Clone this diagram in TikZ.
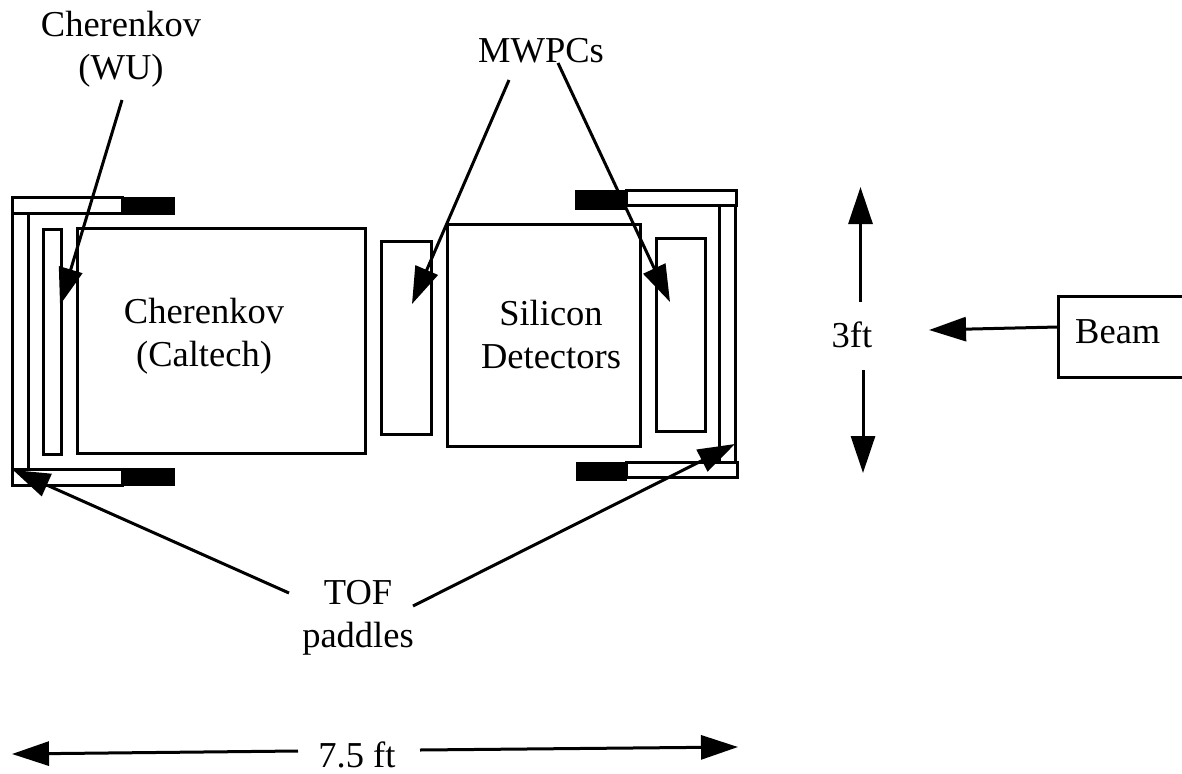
\documentclass[tikz,border=0pt]{standalone}
\usepackage{fontspec}
\setmainfont{Liberation Serif}
\usetikzlibrary{arrows.meta}
\tikzset{
  box/.style={draw=black,line width=3pt,fill=white,inner sep=0pt,outer sep=0pt,anchor=north west},
  blackbox/.style={draw=black,fill=black,line width=1pt,inner sep=0pt,outer sep=0pt,anchor=north west},
  lbl/.style={font=\fontsize{36.5}{43}\selectfont,align=center,inner sep=0pt},
  single/.style={font=\fontsize{36.5}{43}\selectfont,inner sep=0pt,anchor=base},
  conn/.style={line width=3pt,-{Triangle[length=37pt,width=24pt]}}
}
\begin{document}
\begin{tikzpicture}[x=1pt,y=-1pt]
\useasboundingbox (0,0) rectangle (1182,773);
% left TOF frame
\draw[line width=3pt] (12,205) rectangle (28,478);
\node[box,minimum width=110pt,minimum height=16pt] (lt) at (12,197) {};
\node[blackbox,minimum width=52pt,minimum height=17pt] (ltb) at (122,197) {};
\node[box,minimum width=110pt,minimum height=16pt] (lb) at (12,469) {};
\node[blackbox,minimum width=52pt,minimum height=17pt] (lbb) at (122,468) {};
% right TOF frame
\draw[line width=3pt] (719,198) rectangle (735,470);
\node[box,minimum width=110pt,minimum height=15pt] (rt) at (626,190) {};
\node[blackbox,minimum width=51pt,minimum height=19pt] (rtb) at (575,190) {};
\node[box,minimum width=111pt,minimum height=15pt] (rb) at (626,462) {};
\node[blackbox,minimum width=50pt,minimum height=18pt] (rbb) at (576,462) {};
% detectors
\node[box,minimum width=18pt,minimum height=225pt] (wu) at (43,229) {};
\node[box,minimum width=288pt,minimum height=225pt] (cal) at (77,228) {};
\node[box,minimum width=50pt,minimum height=193pt] (m1) at (381,241) {};
\node[box,minimum width=193pt,minimum height=222pt] (si) at (447,224) {};
\node[box,minimum width=49pt,minimum height=193pt] (m2) at (656,238) {};
\node[box,minimum width=140pt,minimum height=81pt] (beam) at (1058,296) {};
% labels
\node[lbl] (tcw) at (121,49) {Cherenkov\\(WU)};
\node[lbl] (tcal) at (204,336) {Cherenkov\\(Caltech)};
\node[lbl] (tsi) at (551,335) {Silicon\\Detectors};
\node[single] (tmw) at (541,63) {MWPCs};
\node[single] (t3) at (852,347) {3ft};
\node[single,anchor=base west] (tbeam) at (1075,343) {Beam};
\node[lbl] (ttof) at (358,618) {TOF\\paddles};
\node[single] (t75) at (357,767) {7.5 ft};
% free ends
\coordinate (a1) at (122,100);
\coordinate (a1e) at (60,305);
\coordinate (a2) at (509,80);
\coordinate (a2e) at (412,304);
\coordinate (a3) at (558,63);
\coordinate (a3e) at (670,302);
\coordinate (a4) at (289,593);
\coordinate (a4e) at (13,470);
\coordinate (a5) at (413,606);
\coordinate (a5e) at (735,444);
\coordinate (a6) at (1058,327);
\coordinate (a6e) at (929,330);
\coordinate (a7) at (860.5,302);
\coordinate (a7e) at (860.5,187);
\coordinate (a8) at (863,370);
\coordinate (a8e) at (863,473);
\coordinate (a9) at (298,751);
\coordinate (a9e) at (12,754);
\coordinate (a10) at (420,750);
\coordinate (a10e) at (738,747);
\draw[conn] (a1) -- (a1e);
\draw[conn] (a2) -- (a2e);
\draw[conn] (a3) -- (a3e);
\draw[conn] (a4) -- (a4e);
\draw[conn] (a5) -- (a5e);
\draw[conn] (a6) -- (a6e);
\draw[conn] (a7) -- (a7e);
\draw[conn] (a8) -- (a8e);
\draw[conn] (a9) -- (a9e);
\draw[conn] (a10) -- (a10e);
\end{tikzpicture}
\end{document}
